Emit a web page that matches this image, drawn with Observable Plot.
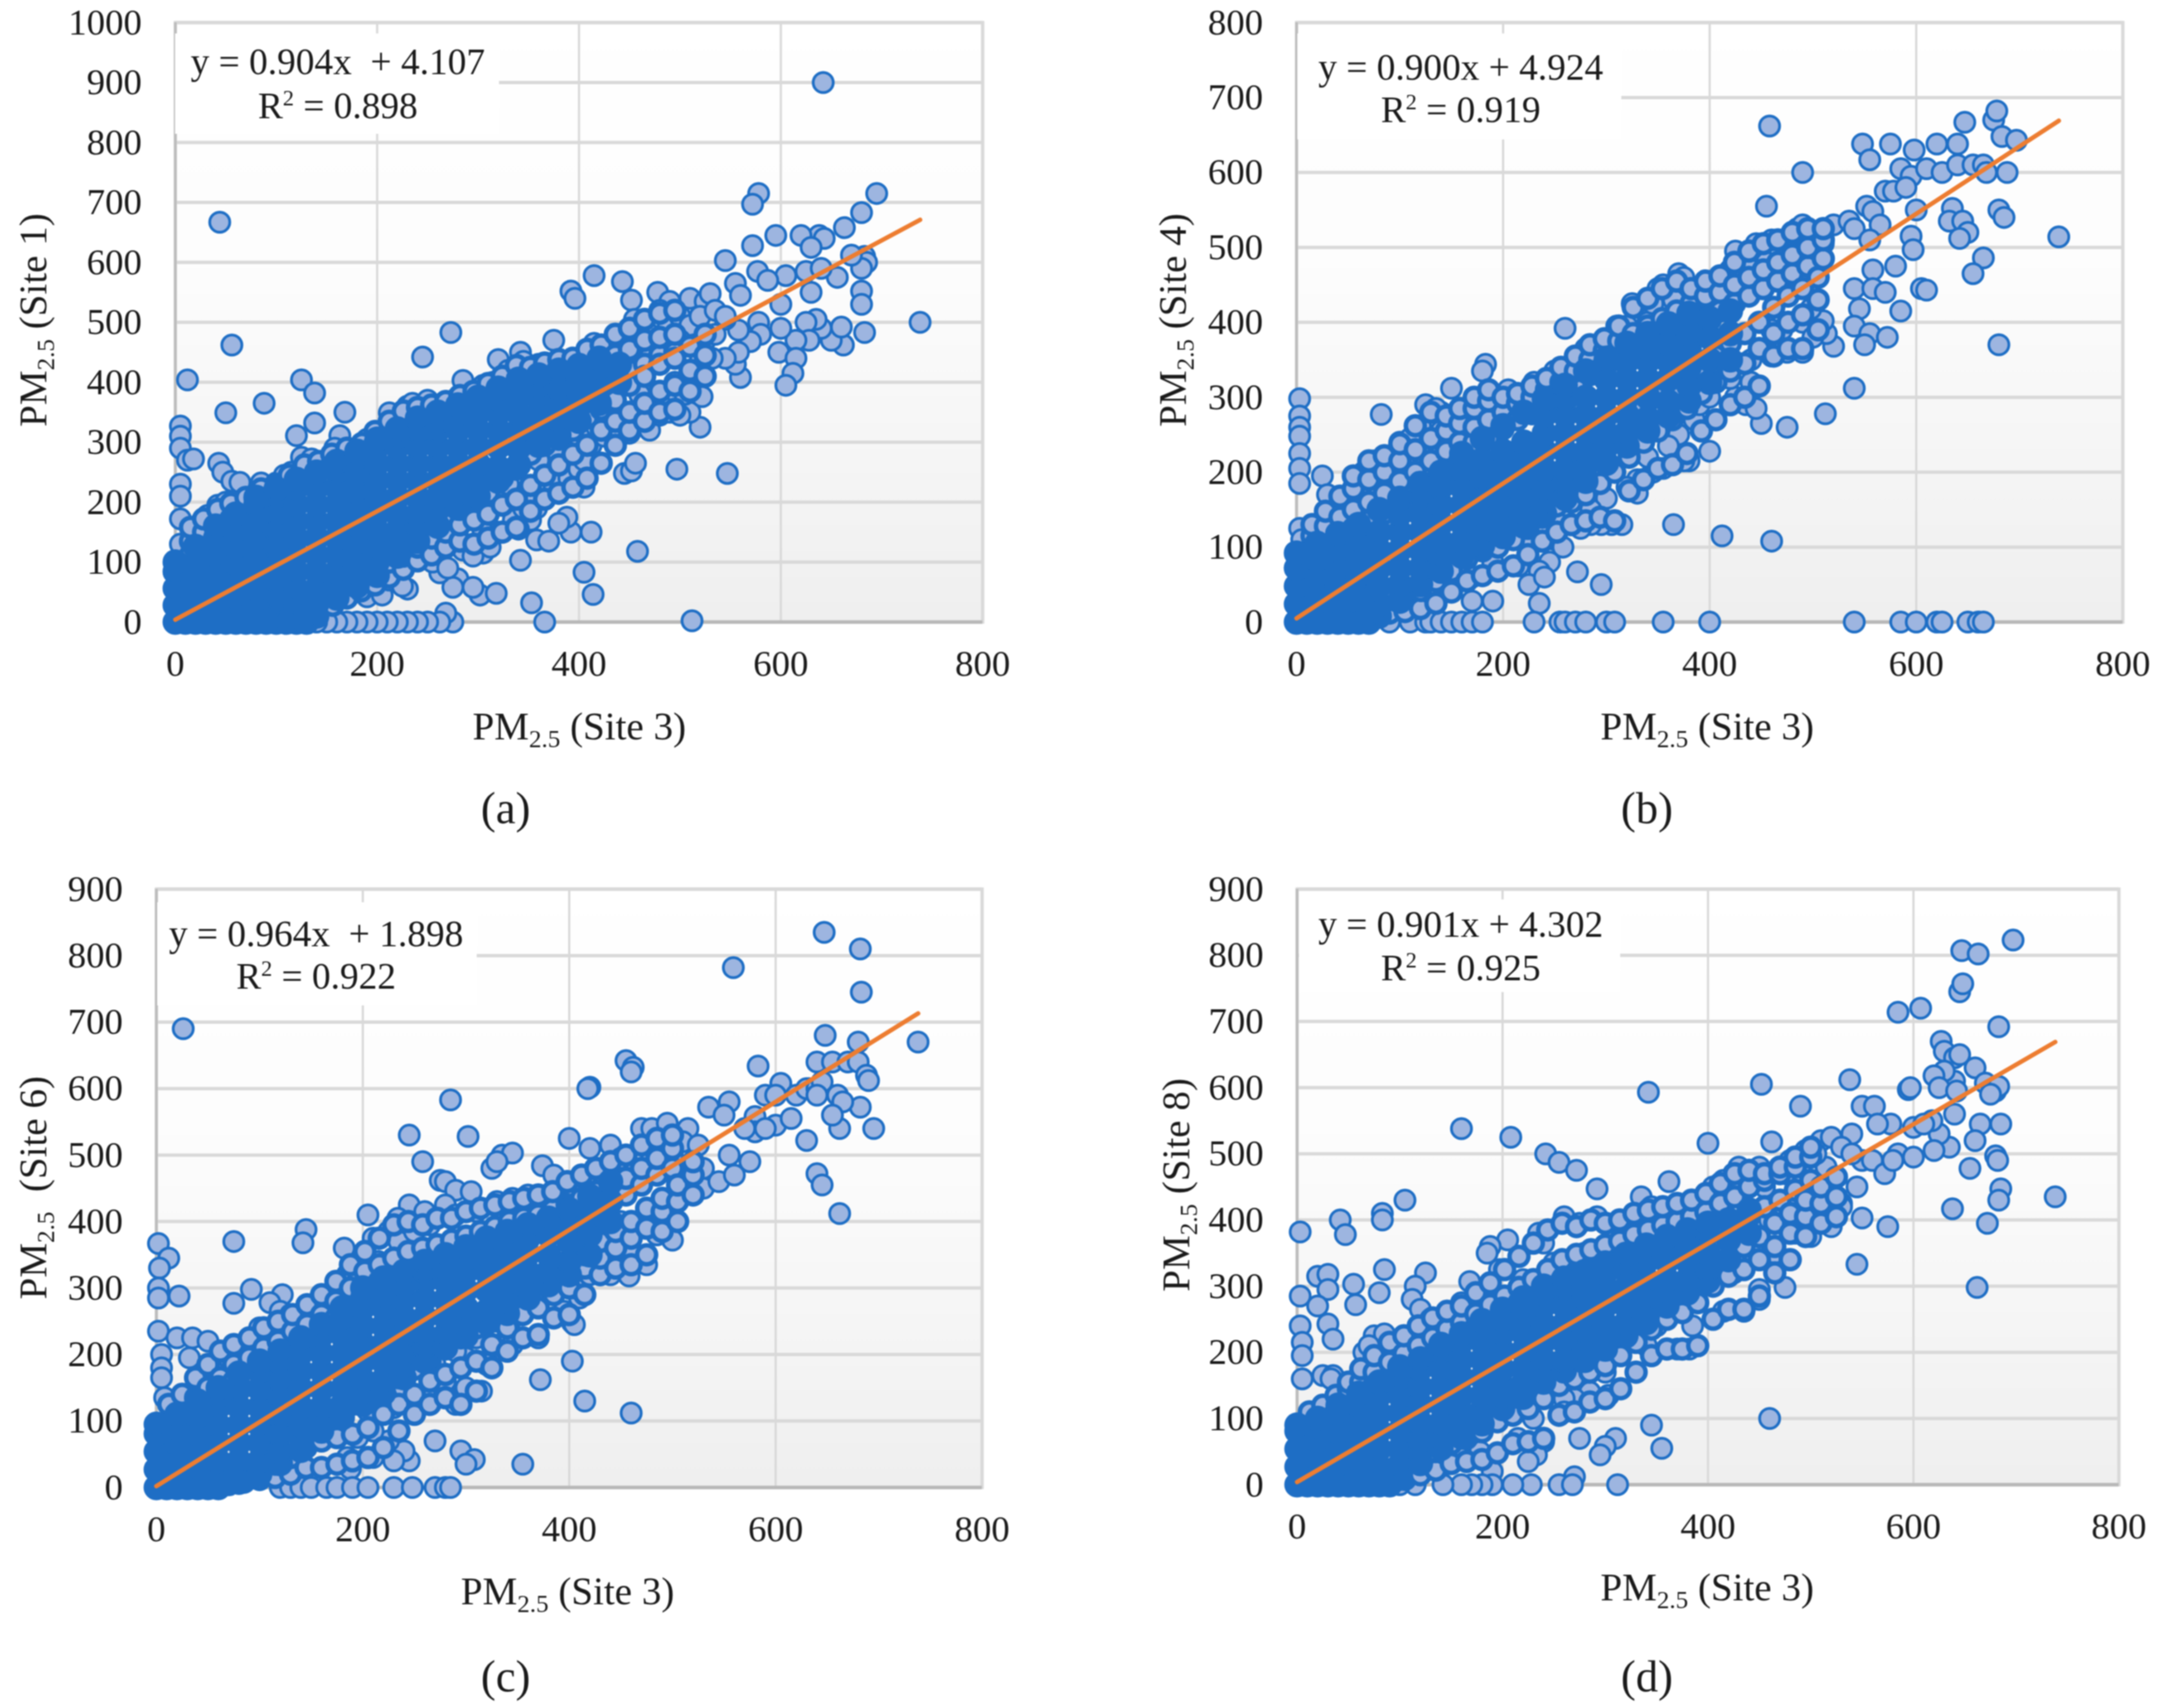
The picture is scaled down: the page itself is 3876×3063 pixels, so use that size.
<!DOCTYPE html>
<html><head><meta charset="utf-8">
<script src="https://cdn.jsdelivr.net/npm/d3@7"></script>
<script src="https://cdn.jsdelivr.net/npm/@observablehq/plot@0.6"></script>
<style>
html,body{margin:0;background:#fff}
#page{position:relative;width:3876px;height:3063px;overflow:hidden;font-family:"Liberation Serif",serif;color:#1a1a1a;filter:blur(0.8px)}
.t{position:absolute;white-space:nowrap;transform:translate(-50%,-50%);line-height:1}
.axt{font-size:70px}.axt sub{font-size:45px;line-height:0;vertical-align:-14px}
.rot{transform:translate(-50%,-50%) rotate(-90deg)}
.box{position:absolute;background:#fff}
.eq{font-size:67px}.eq sup{font-size:40px;line-height:0;vertical-align:23px}
.cap{font-size:80px}
</style></head><body><div id="page"></div>
<script>
// Values.
// points*: single markers [Site 3, other site].
// fringe* and dense*: estimated columns [x, y, y, ...]. fringe = crowded overlapping markers along the
// band edges; dense = the merged solid mass where single markers can no longer be told apart.
const pointsA=[[642,900],[44,667],[578,715],[572,697],[695,715],[680,683],[663,658],[638,645],[595,645],[620,645],[643,640],[630,625],[572,628],[545,603],[683,610],[685,600],[680,590],[656,575],[670,612],[625,585],[640,590],[605,578],[577,585],[555,565],[587,570],[630,550],[600,530],[680,552],[680,530],[738,500],[683,483],[662,462],[650,470],[660,492],[640,490],[635,505],[625,500],[628,470],[615,470],[600,490],[578,500],[580,480],[570,468],[558,487],[598,450],[615,440],[612,415],[605,395],[560,408],[555,430],[558,450],[545,440],[532,440],[525,470],[415,578],[392,552],[396,540],[443,568],[452,537],[478,550],[490,535],[510,540],[525,535],[530,548],[545,505],[560,545],[495,385],[520,435],
[273,483],[245,442],[56,462],[12,404],[50,349],[88,365],[125,404],[138,382],[138,332],[120,311],[168,350],[163,311],[212,349],[5,327],[5,310],[5,290],[12,270],[18,272],[43,265],[47,250],[56,235],[64,233],[85,232],[5,230],[5,210],[5,172],[5,130],[285,403],[320,438],[342,450],[375,470],[400,440],[415,465],[520,325],[497,255],[547,248],[510,350],[522,376],[495,350],[445,248],[452,252],[456,265],[458,118],[414,46],[405,83],[412,150],[392,150],[388,175],[380,165],[358,137],[370,135],[342,103],[352,170],[358,190],[340,155],[320,150],[305,115],[302,45],[318,48],[353,32],[366,0],[512,2],[275,0],[268,15],[262,0],[250,0],[240,0],[230,0],[220,0],[210,0],[200,0],[190,0],[180,0],[170,0],[160,0],[150,0],[140,0],[280,72],[295,58],[275,58],[262,82],[230,55],[207,75],[190,42],[405,225],[388,225],[375,220],
[25,165],[32,178],[42,195],[50,200],[60,190],[72,205],[80,190],[90,215],[100,232],[108,245],[115,250],[125,275],[135,272],[150,265],[158,290],[178,285],[190,305],[200,290],[215,330],[230,360],[235,365],[250,370],[262,360],[272,350],[280,375],[295,385],[305,395],[315,400],[330,420],[345,435],[360,430],[370,425],[385,435],[395,430],[405,445],[425,445],[435,460],[450,490],[455,505],[470,480],[480,520],[488,490],[500,510],[510,495],[520,510],[535,520],[545,510],[535,480],[500,470],[480,460],[470,440],[455,420],[440,430],[425,410],[410,420],
[120,30],[140,30],[150,50],[160,75],[170,55],[180,75],[190,95],[205,45],[212,70],[225,60],[230,100],[245,110],[255,100],[270,90],[285,120],[295,110],[312,125],[270,140],[305,150],[335,170],[345,190],[350,200],[375,230],[390,240],[400,255],[405,270],[412,295],[425,310],[440,310],[450,315],[440,350],[460,340],[470,320],[480,345],[490,350],[500,345],[505,380],[495,400],[460,380],[420,350],[430,380],[400,310],[380,280],[360,270],[330,230],[300,190],[265,160],[235,130]];
const fringeA=[[15,112,135,158],[28,125,150,172],[42,140,165,188],[55,150,172,198],[70,165,185,208],[85,180,200,222],[100,195,215,230],[113,205,226,245],[128,215,240,262],[142,228,250,268],[155,240,262,280],[170,250,275,290],[185,268,285,298],[198,280,298,318],[212,288,310,335],[226,300,322,352],[240,310,332,358],[254,322,345,362],[268,330,350,368],[282,340,358,378],[296,348,368,385],[310,355,378,398],[324,362,385,410],[338,372,398,428],[352,380,405,425],[366,385,412,432],[380,392,418,438],[394,395,420,440],[408,400,425,455],[422,405,438,462],[436,415,445,480],[450,420,455,490],[465,430,470,505],[480,445,475,515],[495,450,480,520],
[115,8,25],[128,12,30],[142,18,38,55],[156,28,50,72],[170,40,62,85],[184,52,78,100],[198,62,90,115],[212,75,100,128],[226,88,110,135],[240,102,125,150],[254,112,140,165],[268,125,150,178],[282,135,162,188],[296,130,170,205],[310,140,180,215],[324,150,195,240],[338,158,205,255],[352,185,228,280],[366,205,245,295],[380,215,262,305],[394,225,280,320],[408,240,295,340],[422,265,320,355],[436,295,335,370],[450,320,350,395],[465,335,365,410],[480,350,385,430],[495,355,395,440],[510,385,420,460],[525,410,445,480]];
const denseA=[[0,0,28,56,84,100],[20,0,14,42,70,98,126],[40,0,28,56,84,112,140,160],[60,0,14,42,70,98,126,154,180],[80,0,28,56,84,112,140,168,196,208],[100,0,14,42,70,98,126,154,182,210,222],[120,0,28,56,84,112,140,168,196,224,238],[140,10,30,56,84,112,140,168,196,224,250],[160,40,64,84,112,140,168,196,224,252,268],[180,60,82,106,134,162,190,218,246,274,285],[200,78,100,124,152,180,208,236,264,292,305],[220,110,136,152,180,208,236,264,292,310,322],[240,135,162,180,208,236,264,292,320,340],[260,160,188,208,236,264,292,320,335,350],[280,190,215,236,264,292,320,348,362],[300,210,240,264,292,320,348,360,375],[320,235,258,292,320,348,372,390],[340,262,290,320,348,376,405],[360,295,325,348,376,395,412],[380,312,338,362,390,420],[400,335,360,385,405,428],[420,365,395,425,440],[440,400,430],
[10,0],[30,0],[50,0],[70,0],[90,0],[110,0],[130,0,14]];
const trendA=[[0,4],[738,671]];

const pointsB=[[458,662],[490,600],[455,555],[548,638],[575,638],[598,630],[620,638],[640,638],[647,667],[675,670],[678,682],[683,648],[697,643],[555,617],[585,605],[595,595],[610,605],[625,600],[640,610],[655,610],[665,610],[668,600],[688,600],[570,575],[578,575],[590,580],[600,550],[635,552],[552,555],[558,548],[565,530],[632,535],[645,535],[650,520],[642,512],[680,550],[685,540],[738,514],[665,486],[655,465],[595,515],[597,497],[605,445],[610,443],[580,475],[558,470],[540,445],[558,445],[570,440],[545,418],[585,415],[540,395],[555,385],[572,380],[550,370],[520,368],[513,385],[510,402],[498,418],[490,400],[680,370],[540,312],[512,278],[475,260],[450,265],[400,228],[365,130],[412,115],[460,108],[260,392],[183,344],[180,335],[82,277],[3,298],[3,275],[3,260],[3,248],[3,225],[3,205],[3,185],[25,195],[30,170],[150,312],[125,290],[140,280],[135,285],[185,300],[170,290],[120,262],[140,255],[65,200],[75,215],[85,210],[55,195],[3,125],[5,110],[25,135],[30,125],
[100,240],[110,245],[150,275],[170,270],[205,310],[230,320],[250,335],[280,365],[300,375],[325,425],[330,420],[350,445],[355,450],[370,465],[375,460],[340,400],[310,395],[400,450],[420,470],[425,495],[445,505],[460,510],[485,525],[490,530],[520,530],[535,535],[540,525],[555,510],[510,505],[495,490],[475,500],[455,480],[440,470],[415,440],[395,425],[385,405],[365,430],[345,425],[320,395],[290,355],[270,350],[245,315],[220,300],[195,280],[160,250],[110,215],[90,190],[45,160],[60,175],
[380,215],[375,215],[355,205],[345,200],[330,190],[330,172],[315,130],[305,130],[295,130],[285,130],[275,125],[265,130],[250,110],[255,130],[258,100],[245,80],[215,75],[235,68],[225,50],[240,60],[272,67],[295,50],[235,25],[190,28],[170,28],[210,110],[440,320],[435,290],[445,285],[425,300],[385,270],[390,290],[400,300],[410,350],[440,350],[460,355],[475,360],[490,360],[470,390],[460,390],[500,380],[420,325],[370,250],[360,235],[340,220],[320,180],[300,165],[285,150],[240,120],[225,105],[190,80],[170,60],[150,50],[130,35],[110,25],
[90,0],[110,0],[125,0],[130,0],[140,0],[150,0],[160,0],[170,0],[180,0],[230,0],[255,0],[260,0],[270,0],[280,0],[300,0],[308,0],[355,0],[400,0],[540,0],[585,0],[600,0],[620,0],[625,0],[650,0],[660,0],[665,0]];
const fringeB=[[15,95,115,130],[28,105,128,148],[42,115,140,168],[55,125,150,178,195],[70,135,160,190,215],[85,145,172,200,222],[100,158,188,215,238],[115,172,200,230,262],[130,185,215,245,280],[145,200,228,255,275],[158,215,240,265,285],[172,240,260,285,300],[186,245,270,295,310],[200,258,280,300],[214,270,292,305],[228,278,300,315],[242,290,310,325],[256,300,320,340],[270,315,335,355],[284,330,350,370],[298,345,362,378],[312,350,375,395],[326,360,385,420],[340,370,395,432],[354,378,405,445],[368,385,415,455],[382,395,425,445],[396,405,435,455],[410,415,440,462],[424,425,450,480],[438,435,460,495],[452,445,470,505],[466,455,480,510],[480,465,490,520],[495,475,500,525],[510,485,510,525],
[62,6,20],[75,10,28],[90,12,30],[105,14,36],[120,18,42],[135,25,55,78],[150,40,68,95],[165,55,85,108],[180,62,95,122],[195,68,100,130],[210,75,110,138],[224,90,125,150],[238,108,140,168],[252,120,155,175],[266,130,160,185],[280,135,170,205],[294,140,185,225],[308,135,200,245],[322,175,220,270],[336,190,240,285],[350,205,255,300],[364,210,270,310],[378,225,285,325],[392,255,305,340],[406,270,320,355],[420,290,335,372],[434,300,345,385],[448,315,365,400],[462,355,385,420],[476,365,400,435],[490,365,410,445],[505,390,430,460]];
const denseB=[[0,0,24,48,72,92],[20,0,12,36,60,84,105],[40,0,24,48,72,96,118],[60,0,12,36,60,84,108,130],[80,8,24,48,72,96,120,150],[100,28,50,72,96,120,144,165],[120,50,72,96,120,144,168,185],[140,68,88,108,132,156,180,200],[160,88,108,132,156,180,204,225],[180,102,122,144,168,192,216,245],[200,114,134,156,180,204,228,262],[220,128,146,168,192,216,240,280],[240,145,162,180,204,228,252,276,298],[260,165,186,204,228,252,276,296,316],[280,188,210,228,252,276,300,335],[300,212,234,252,276,300,324,352],[320,235,254,276,300,324,348,372],[340,255,272,300,324,348,366,385],[360,275,294,324,348,372,398],[380,295,315,340,365,385,412],[400,320,350,380,405],[420,350,385,415],
[10,0],[30,0],[50,0],[70,0,12]];
const trendB=[[0,5],[738,669]];

const pointsC=[[647,835],[682,810],[683,745],[559,782],[26,690],[648,680],[680,670],[738,670],[455,642],[462,632],[460,625],[583,634],[420,602],[418,600],[285,583],[605,608],[632,600],[640,640],[655,640],[670,640],[680,640],[688,620],[690,612],[682,572],[660,590],[665,580],[695,540],[662,540],[630,522],[640,472],[645,455],[662,412],
[245,530],[302,528],[400,525],[258,490],[325,480],[335,500],[345,503],[330,490],[374,484],[275,462],[280,460],[290,447],[305,445],[385,470],[395,450],[420,510],[440,515],[470,540],[480,540],[495,548],[515,540],[535,572],[555,580],[550,560],[580,558],[590,590],[600,590],[620,590],[630,600],[640,600],[645,610],[655,560],[640,590],
[245,425],[205,410],[280,425],[260,415],[234,405],[210,375],[225,385],[145,388],[142,368],[75,370],[182,360],[2,367],[12,345],[3,330],[2,300],[2,285],[22,288],[92,298],[75,277],[122,290],[110,278],[120,265],[130,260],[160,285],[175,290],[185,320],[195,310],[2,235],[20,225],[35,225],[50,220],[32,195],[40,160],[5,200],[5,180],[5,165],[8,135],
[460,112],[415,130],[403,190],[372,162],[355,35],[403,248],[370,225],[350,260],[350,225],[320,190],[315,145],[320,185],[300,150],[290,125],[280,140],[270,70],[295,55],[308,42],[300,35],[240,45],[245,40],[240,55],[225,70],[210,85],[210,45],[230,40],[195,75],[185,45],[188,28],[230,120],[250,115],[260,140],[280,160],[300,195],[340,225],[345,215],
[500,372],[475,335],[460,350],[458,318],[440,320],[420,320],[430,350],[410,285],[405,300],[420,330],[395,265],[385,290],[405,245],[120,0],[130,0],[140,0],[150,0],[165,0],[175,0],[190,0],[205,0],[230,0],[248,0],[270,0],[280,0],[285,0],
[495,425],[490,400],[485,380],[510,450],[530,450],[545,460],[560,470],[575,490],[580,535],[600,545],[615,555],[590,540],[530,480],[520,490],[510,520],[570,540],[555,500],[525,515],[500,500],[480,500],[470,480],[460,475],[450,495],[440,490],[425,480],
[60,170],[70,195],[85,215],[100,240],[125,250],[140,255],[150,270],[170,290],[200,345],[215,340],[235,370],[250,385],[265,395],[290,410],[310,415],[330,430],[345,435],[360,440],[385,430],[405,440],[420,450],[440,460],[430,410],[410,395],[380,405],[370,420],
[70,20],[90,30],[110,40],[130,45],[150,70],[165,90],[180,105],[205,115],[220,135],[240,150],[270,185],[290,205],[310,225],[330,250],[345,255],[365,275],[380,300],[395,310],[415,350],[440,380],[450,400]];
const fringeC=[[12,70,95,125],[25,90,115,140],[38,110,135,165],[50,120,150,185],[62,140,165,205],[75,160,185,215],[90,172,195,225],[104,185,210,240],[118,195,220,250],[132,210,235,260],[146,225,245,275],[160,235,260,290],[174,255,280,310],[188,280,300,335],[202,305,325,355],[216,310,335,375],[230,318,345,395],[244,325,355,400],[258,330,360,395],[272,338,365,405],[286,345,372,405],[300,350,378,415],[314,358,385,420],[328,365,392,425],[342,372,400,430],[356,378,405,435],[370,385,410,440],[384,392,418,445],[398,400,425,460],[412,410,435,470],[426,420,445,480],[440,430,455,490],[455,440,465,500],[470,455,480,515],[485,470,495,525],[500,480,510,530],
[70,5],[85,8,22],[100,12,25],[115,15,35],[130,20,45],[145,30,60,85],[160,30,70,100],[175,35,75,115],[190,40,80,125],[205,45,90,135],[220,60,110,150],[235,85,125,165],[250,110,140,178],[265,125,160,190],[280,135,170,210],[295,125,180,225],[310,145,190,240],[325,180,215,265],[340,205,240,285],[355,225,260,295],[370,230,270,305],[385,255,290,320],[400,260,300,330],[415,290,330,350],[430,320,345,370],[445,330,360,385],[460,335,375,400],[475,350,390,420],[490,385,415,435],[505,400,430,455],[520,440,470,490]];
const denseC=[[0,0,27,54,81,95],[20,0,13,40,67,90,110],[40,0,27,54,81,108,130],[60,0,13,40,67,94,121,138,150],[80,8,20,40,67,94,121,148,172],[100,20,40,67,94,121,148,175,190],[120,36,54,81,108,135,162,189,205],[140,56,76,94,121,148,175,202,225],[160,85,104,121,148,175,202,229,245],[180,105,124,148,175,202,229,256,270],[200,125,144,162,189,216,243,270,285,300],[220,142,162,189,216,243,270,290,315],[240,165,184,202,229,256,283,305,325],[260,190,212,229,256,283,310,325,340],[280,210,230,256,283,310,330,350],[300,228,245,270,297,324,345,362],[320,248,265,297,324,351,375],[340,262,280,310,337,364,385],[360,285,300,324,351,375,395],[380,305,325,350,380,405],[400,320,340,370,395,418],[420,350,380,410,438],[440,400,430,460],
[10,0],[30,0],[50,0],[70,6]];
const trendC=[[0,2],[738,713]];

const pointsD=[[697,823],[647,807],[663,802],[645,745],[648,757],[585,714],[607,720],[683,692],[627,670],[630,655],[640,645],[645,650],[640,610],[595,597],[597,600],[538,612],[452,605],[342,593],[490,572],[630,625],[620,618],[625,600],[642,595],[660,630],[670,607],[680,595],[683,602],[550,572],[562,572],[675,590],[640,560],[685,545],[665,545],[660,520],[680,497],[682,490],[655,478],[635,510],[625,530],[618,550],[600,540],[610,545],[578,545],[565,545],[540,530],[685,447],[683,430],[738,435],[672,395],[638,417],[575,390],[545,333],[662,298],[550,403],[530,425],
[160,538],[208,525],[242,500],[255,487],[272,475],[292,447],[400,516],[462,518],[362,458],[335,435],[345,420],[350,410],[292,405],[260,405],[275,395],[235,380],[240,365],[205,370],[188,360],[185,350],[197,325],[168,307],[125,320],[115,300],[112,280],[120,265],[105,430],[83,410],[83,400],[42,400],[47,378],[3,382],[3,285],[20,315],[30,318],[30,295],[20,270],[55,303],[57,272],[80,290],[85,325],[30,243],[35,220],[3,240],[5,215],[5,195],[5,160],[25,165],[35,165],[33,160],[52,155],[65,200],[75,225],[85,228],[70,210],[105,225],[130,250],[150,255],[160,275],[170,270],
[460,100],[345,90],[355,55],[310,70],[300,58],[295,45],[312,0],[270,12],[255,0],[268,0],[275,70],[240,65],[230,100],[233,45],[225,35],[215,70],[190,20],[178,50],[160,40],[228,0],[210,0],[190,0],[180,0],[170,0],[160,0],[142,0],[115,0],[100,0],[90,0],
[303,135],[285,140],[300,170],[270,130],[260,130],[260,110],[340,210],[370,205],[382,205],[385,240],[375,260],[350,240],[415,262],[435,262],[450,280],[450,295],[475,298],[478,340],[500,375],[520,390],[485,380],[465,350],[445,350],[425,320],
[425,470],[430,480],[450,480],[410,440],[405,450],[370,420],[400,420],[385,390],[480,490],[495,505],[510,520],[520,525],[530,510],[515,480],[520,440],[530,420],[510,430],[495,410],[545,450],[550,490],[560,490],[585,500],[600,495],[572,470],[580,490],[620,505],
[180,265],[200,285],[220,310],[250,335],[280,350],[310,370],[330,385],[350,395],[375,410],[395,415],[415,460],[440,465],[455,450],[475,470],[490,480],[505,500],[540,500],
[70,25],[85,20],[110,45],[130,55],[150,80],[170,100],[190,115],[210,135],[230,150],[250,170],[275,195],[295,200],[315,230],[335,240],[360,275],[385,300],[405,310],[420,340],[440,380],[460,400],[480,420]];
const fringeD=[[12,85,110],[25,95,120],[38,110,135],[50,125,145,155],[62,135,155,175],[75,150,170,195],[90,160,185,215],[104,172,198,225],[118,185,210,240],[132,195,222,252],[146,210,235,262],[160,222,245,270],[174,238,258,290],[188,250,272,305],[202,262,285,325],[216,275,298,345],[230,285,310,365],[244,298,325,385],[258,310,340,395],[272,318,348,390],[286,322,355,400],[300,328,362,395],[314,332,368,400],[328,340,378,410],[342,348,385,415],[356,358,392,420],[370,365,398,425],[384,372,405,430],[398,378,412,440],[412,385,425,455],[426,395,435,470],[440,405,450,475],[455,420,460,470],[470,430,470,480],[485,445,480,495],[500,460,495,510],
[90,6],[105,8,22],[120,15,40],[135,22,50,70],[150,32,62,85],[165,35,70,95],[180,38,80,110],[195,48,95,125],[210,62,105,135],[225,65,115,150],[240,70,130,170],[255,105,150,185],[270,110,160,195],[285,125,170,205],[300,130,180,215],[315,145,195,235],[330,170,215,255],[345,195,235,270],[360,205,250,285],[375,205,260,295],[390,210,275,305],[405,250,300,325],[420,265,315,340],[435,265,325,360],[450,285,340,375],[465,320,360,395],[480,340,380,410],[495,375,405,430],[510,395,425,450],[525,405,435,465]];
const denseD=[[0,0,27,54,81,90],[20,0,13,40,67,88,100],[40,0,27,54,81,108,120],[60,0,13,40,67,94,121,138],[80,0,10,27,54,81,108,135,155],[100,10,30,54,81,108,135,162,178],[120,32,50,67,94,121,148,175,190],[140,55,72,94,121,148,175,202,212],[160,72,92,108,135,162,189,216,228],[180,92,112,135,162,189,216,235,248],[200,115,134,148,175,202,229,250,265],[220,132,152,175,202,229,256,268,282],[240,155,172,189,216,243,270,285,300],[260,172,188,216,243,270,297,312],[280,188,206,229,256,283,305,322],[300,205,220,243,270,297,320,335],[320,225,244,270,297,324,335,348],[340,245,262,283,310,337,350,362],[360,270,290,310,337,360,375],[380,290,310,337,364,385],[400,308,325,350,380,395],[420,340,370,400],[440,380,415],
[10,0],[30,0],[50,0],[70,0],[90,0]];
const trendD=[[0,4],[738,669]];

const xTicks=[0,200,400,600,800];
const yTicksA=[0,100,200,300,400,500,600,700,800,900,1000];
const yTicksB=[0,100,200,300,400,500,600,700,800];
const yTicksCD=[0,100,200,300,400,500,600,700,800,900];

// Layout only, in page pixels
const panels=[
 {id:"a",site:"Site 1",pts:pointsA,fringe:fringeA,dense:denseA,trend:trendA,yT:yTicksA,f:[314,1762,40,1115],
  eq:"y = 0.904x &nbsp;+ 4.107",r2:"0.898",box:[314,895,60,240],eqX:606,eqY:[110,189],xl:[1039,1303],yl:[60,574],cap:[907,1449]},
 {id:"b",site:"Site 4",pts:pointsB,fringe:fringeB,dense:denseB,trend:trendB,yT:yTicksB,f:[2325,3807,40,1115],
  eq:"y = 0.900x + 4.924",r2:"0.919",box:[2327,2908,60,250],eqX:2620,eqY:[120,196],xl:[3062,1303],yl:[2104,574],cap:[2954,1449]},
 {id:"c",site:"Site 6",pts:pointsC,fringe:fringeC,dense:denseC,trend:trendC,yT:yTicksCD,f:[280,1761,1594,2667],
  eq:"y = 0.964x &nbsp;+ 1.898",r2:"0.922",box:[282,855,1618,1803],eqX:567,eqY:[1674,1750],xl:[1018,2854],yl:[60,2130],cap:[907,3006],siteGap:true},
 {id:"d",site:"Site 8",pts:pointsD,fringe:fringeD,dense:denseD,trend:trendD,yT:yTicksCD,f:[2326,3800,1594,2662],
  eq:"y = 0.901x + 4.302",r2:"0.925",box:[2330,2906,1613,1779],eqX:2620,eqY:[1657,1735],xl:[3062,2847],yl:[2110,2125],cap:[2954,3006]}
];
const page=document.getElementById("page");
const FONT='"Liberation Serif",serif';
const expand=rows=>rows.flatMap(([x,...ys])=>ys.map(y=>[x,y]));
function addText(cls,html,x,y){const d=document.createElement("div");d.className="t "+cls;d.innerHTML=html;d.style.left=x+"px";d.style.top=y+"px";page.appendChild(d);}
for(const p of panels){
  const [L,R,T,B]=p.f, ml=300, mt=40, mr=110, mb=130;
  const svg=Plot.plot({
    width:R-L+ml+mr,height:B-T+mt+mb,marginLeft:ml,marginRight:mr,marginTop:mt,marginBottom:mb,
    x:{domain:[0,800],ticks:xTicks},y:{domain:[0,p.yT[p.yT.length-1]]},
    style:{position:"absolute",left:(L-ml)+"px",top:(T-mt)+"px",overflow:"visible",background:"transparent",fontFamily:FONT,fontSize:"66px",color:"#1a1a1a"},
    marks:[
      Plot.frame({fill:`url(#grad-${p.id})`,stroke:null}),
      Plot.gridX(xTicks,{stroke:"#d9d9d9",strokeWidth:4,strokeOpacity:1}),
      Plot.gridY(p.yT,{stroke:"#d9d9d9",strokeWidth:6,strokeOpacity:1}),
      Plot.frame({stroke:"#d9d9d9",strokeWidth:6}),
      Plot.ruleX([0],{stroke:"#bdbdbd",strokeWidth:5}),
      Plot.ruleY([0],{stroke:"#b8b8b8",strokeWidth:6}),
      Plot.axisX({ticks:xTicks,tickSize:0,tickPadding:50,tickFormat:d=>String(d),label:null}),
      Plot.axisY({ticks:p.yT,tickSize:0,tickPadding:60,tickFormat:d=>String(d),label:null}),
      Plot.dot(p.pts,{x:d=>d[0],y:d=>d[1],r:18,fill:"#9db5e0",stroke:"#1e6ec5",strokeWidth:5}),
      Plot.dot(expand(p.fringe),{x:d=>d[0],y:d=>d[1],r:17,fill:"#9db5e0",stroke:"#1e6ec5",strokeWidth:8}),
      Plot.dot(expand(p.dense),{x:d=>d[0],y:d=>d[1],r:21,fill:"#1e6ec5",stroke:"#1e6ec5",strokeWidth:4}),
      Plot.line(p.trend,{x:d=>d[0],y:d=>d[1],stroke:"#ed7d31",strokeWidth:8})
    ]
  });
  const ns="http://www.w3.org/2000/svg";
  const defs=document.createElementNS(ns,"defs");
  defs.innerHTML=`<linearGradient id="grad-${p.id}" x1="0" y1="0" x2="0" y2="1"><stop offset="0" stop-color="#ffffff"/><stop offset="0.4" stop-color="#fdfdfd"/><stop offset="1" stop-color="#efefef"/></linearGradient>`;
  svg.insertBefore(defs,svg.firstChild);
  page.appendChild(svg);
  const box=document.createElement("div");box.className="box";
  box.style.cssText=`left:${p.box[0]}px;top:${p.box[2]}px;width:${p.box[1]-p.box[0]}px;height:${p.box[3]-p.box[2]}px`;
  page.appendChild(box);
  addText("eq",p.eq,p.eqX,p.eqY[0]);
  addText("eq",`R<sup>2</sup> = ${p.r2}`,p.eqX,p.eqY[1]);
  addText("axt","PM<sub>2.5</sub> (Site 3)",p.xl[0],p.xl[1]);
  addText("axt rot",`PM<sub>2.5</sub> ${p.siteGap?"&nbsp;":""}(${p.site})`,p.yl[0],p.yl[1]);
  addText("cap",`(${p.id})`,p.cap[0],p.cap[1]);
}
</script></body></html>
